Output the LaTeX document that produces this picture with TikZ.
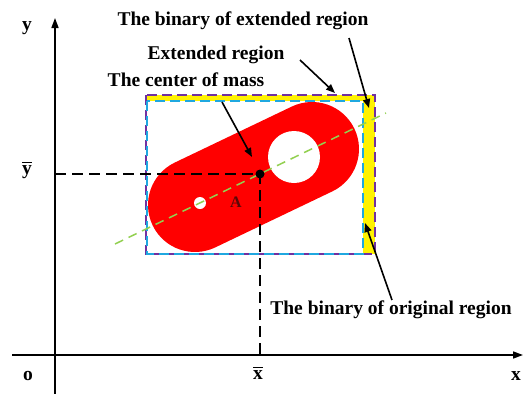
\documentclass[tikz,border=0pt]{standalone}
\usepackage{fontspec}
\setmainfont{Liberation Serif}
\usetikzlibrary{arrows.meta}

\definecolor{regpurple}{HTML}{7030A0}
\definecolor{regcyan}{HTML}{1FA8E0}
\definecolor{axisgreen}{HTML}{92D050}
\definecolor{markred}{HTML}{5A0808}

\newcommand{\barred}[1]{\vbox{\hrule height 1.5pt\kern2pt\hbox{#1}}}

\begin{document}
\begin{tikzpicture}[x=1pt, y=-1pt,
  lbl/.style={font=\fontsize{19.5}{22}\selectfont\bfseries, inner sep=0pt},
  ptr/.style={-{Triangle[length=9pt,width=7pt]}, line width=1.6pt},
  regline/.style={line width=1.8pt, dash pattern=on 10pt off 5pt}]
  \useasboundingbox (0,0) rectangle (523,394);

  % Coordinates
  \coordinate (O) at (55,355);
  \coordinate (Xend) at (523,355);
  \coordinate (Xstart) at (12,355);
  \coordinate (Yend) at (55,18);
  \coordinate (Ystart) at (55,394);
  \coordinate (M) at (260,174);
  \coordinate (My) at (55,174);
  \coordinate (Mx) at (260,355);
  \coordinate (C1) at (195,205);
  \coordinate (C2) at (312,149);
  \coordinate (H1) at (200,203);
  \coordinate (H2) at (294,157);
  \coordinate (G1) at (115,244);
  \coordinate (G2) at (386,113);
  \coordinate (E1) at (146,95);
  \coordinate (E2) at (375,254);
  \coordinate (R1) at (147,101);
  \coordinate (R2) at (363,254);
  \coordinate (comFoot) at (222,102);
  \coordinate (comTip) at (252,157);
  \coordinate (extFoot) at (300,60);
  \coordinate (extTip) at (335,93);
  \coordinate (binextFoot) at (349,38);
  \coordinate (binextTip) at (369,108);
  \coordinate (binorigFoot) at (392,300);
  \coordinate (binorigTip) at (365,223);

  % Regions
  \fill[yellow] (E1) rectangle (E2);
  \fill[white] (R1) rectangle (R2);
  \draw[red, line width=94pt, line cap=round] (C1) -- (C2);
  \fill[white] (H1) circle (6);
  \fill[white] (H2) circle (26);
  \draw[regline, regpurple] (E1) rectangle (E2);
  \draw[regline, regcyan] (R1) rectangle (R2);
  \draw[axisgreen, line width=1.5pt, dash pattern=on 9pt off 6pt] (G1) -- (G2);

  % Axes
  \draw[line width=1.6pt, -{Triangle[length=10pt,width=7pt]}] (Xstart) -- (Xend);
  \draw[line width=1.6pt, -{Triangle[length=10pt,width=7pt]}] (Ystart) -- (Yend);
  \draw[line width=1.5pt, dash pattern=on 11pt off 6pt] (My) -- (M) -- (Mx);
  \fill[black] (M) circle (4.5);

  % Labels
  \node[lbl] (ylbl) at (27,28) {y};
  \node[lbl] (olbl) at (28,376) {o};
  \node[lbl] (xlbl) at (516,376) {x};
  \node[lbl] (ybar) at (27,170) {\barred{y}};
  \node[lbl] (xbar) at (258,373) {\barred{x}};
  \node[lbl, font=\fontsize{16}{18}\selectfont\bfseries, text=markred] (A) at (236,202) {A};
  \node[lbl] (binext) at (243,21) {The binary of extended region};
  \node[lbl] (ext) at (216,55) {Extended region};
  \node[lbl] (com) at (186,80) {The center of mass};
  \node[lbl] (binorig) at (391,310) {The binary of original region};

  % Pointers
  \draw[ptr] (comFoot) -- (comTip);
  \draw[ptr] (extFoot) -- (extTip);
  \draw[ptr] (binextFoot) -- (binextTip);
  \draw[ptr] (binorigFoot) -- (binorigTip);
\end{tikzpicture}
\end{document}
